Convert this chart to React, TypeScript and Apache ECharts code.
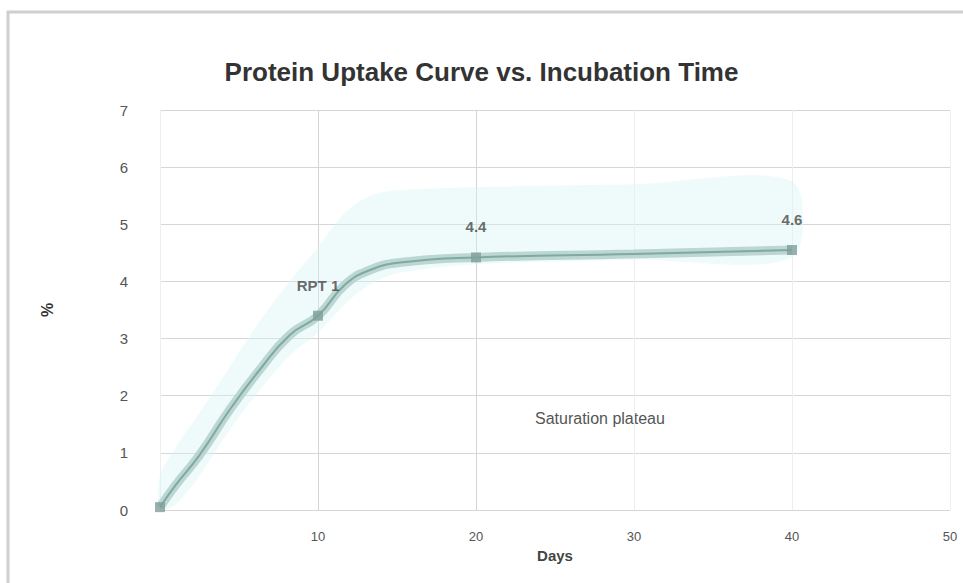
import React, { useEffect, useRef } from "react";
import * as echarts from "echarts";

// Measured uptake along the incubation period
const days = [0, 1, 2.5, 4.4, 6.3, 8.2, 10, 11.7, 13.3, 15.2, 20, 30, 40];
const uptake = [0.05, 0.44, 0.96, 1.75, 2.45, 3.06, 3.4, 3.94, 4.2, 4.33, 4.42, 4.48, 4.55];
// Confidence band around the curve
const upperBand = [0.6, 1.1, 1.7, 2.5, 3.3, 4.0, 4.6, 5.2, 5.5, 5.6, 5.65, 5.7, 5.75];
const lowerBand = [0, 0.1, 0.6, 1.4, 2.1, 2.7, 3.1, 3.6, 3.95, 4.15, 4.3, 4.38, 4.42];

// Labelled sample points
const markedDays = [0, 10, 20, 40];
const markedValues = [0.05, 3.4, 4.42, 4.55];
const markedTexts = ["", "RPT 1", "4.4", "4.6"];

const yMax = 7;

export default function App() {
  const ref = useRef<HTMLDivElement>(null);
  useEffect(() => {
    if (!ref.current) return;
    const chart = echarts.init(ref.current, null, { renderer: "svg" });
    const bandPoly = [
      ...days.map((d, i) => [d, upperBand[i]]),
      ...days.map((d, i) => [d, lowerBand[i]]).reverse(),
    ];
    chart.setOption({
      animation: false,
      backgroundColor: "#ffffff",
      textStyle: { fontFamily: "Liberation Sans, Arial, sans-serif" },
      title: {
        text: "Protein Uptake Curve vs. Incubation Time",
        left: "center",
        top: 54,
        textStyle: { fontSize: 26, fontWeight: "bold", color: "#333" },
      },
      graphic: [
        {
          type: "rect",
          shape: { x: 8, y: 12, width: 966, height: 580 },
          style: { fill: "none", stroke: "#cfcfcf", lineWidth: 3 },
          silent: true,
        },
        {
          type: "text",
          left: 535,
          top: 410,
          style: { text: "Saturation plateau", fontSize: 16, fill: "#555" },
        },
      ],
      grid: { left: 160, right: 13, top: 110, bottom: 73 },
      xAxis: {
        type: "value",
        min: 0,
        max: 50,
        interval: 10,
        name: "Days",
        nameLocation: "middle",
        nameGap: 38,
        nameTextStyle: { fontSize: 15, color: "#444", fontWeight: "bold" },
        axisLine: { show: false },
        axisTick: { show: false },
        axisLabel: { color: "#555", fontSize: 13, margin: 20, formatter: (v: number) => (v === 0 ? "" : String(v)) },
        splitLine: { show: true, lineStyle: { color: ["#eeeeee", "#d4d4d4", "#d4d4d4", "#eeeeee", "#eeeeee", "#eeeeee"] } },
      },
      yAxis: {
        type: "value",
        min: 0,
        max: yMax,
        interval: 1,
        name: "%",
        nameLocation: "middle",
        nameGap: 105,
        nameRotate: 90,
        nameTextStyle: { fontSize: 16, color: "#333", fontWeight: "bold" },
        axisLine: { show: false },
        axisTick: { show: false },
        axisLabel: { color: "#555", fontSize: 15, margin: 32 },
        splitLine: { show: true, lineStyle: { color: "#d6d6d6" } },
      },
      series: [
        {
          type: "custom",
          silent: true,
          z: 1,
          renderItem: (_params: any, api: any) => ({
            type: "polygon",
            shape: { points: bandPoly.map((p) => api.coord(p)), smooth: 0.3 },
            style: { fill: "rgba(215,246,246,0.4)", stroke: "none" },
          }),
          data: [0],
        },
        {
          type: "line",
          data: days.map((d, i) => [d, uptake[i]]),
          smooth: true,
          symbol: "none",
          lineStyle: { color: "#bcd6d2", width: 9 },
          z: 3,
        },
        {
          type: "line",
          data: days.map((d, i) => [d, uptake[i]]),
          smooth: true,
          symbol: "none",
          lineStyle: { color: "#7fa9a3", width: 2 },
          z: 4,
        },
        {
          type: "scatter",
          data: markedDays.map((d, i) => [d, markedValues[i], markedTexts[i]]),
          symbol: "rect",
          symbolSize: 10,
          itemStyle: { color: "#7f9f9a" },
          z: 5,
          label: {
            show: true,
            position: "top",
            distance: 18,
            fontSize: 15,
            fontWeight: "bold",
            color: "#444",
            formatter: (p: any) => p.value[2],
          },
        },
      ],
    });
    return () => chart.dispose();
  }, []);
  return (
    <div
      ref={ref}
      style={{ position: "fixed", left: 0, top: 0, width: 963, height: 583 }}
    />
  );
}
